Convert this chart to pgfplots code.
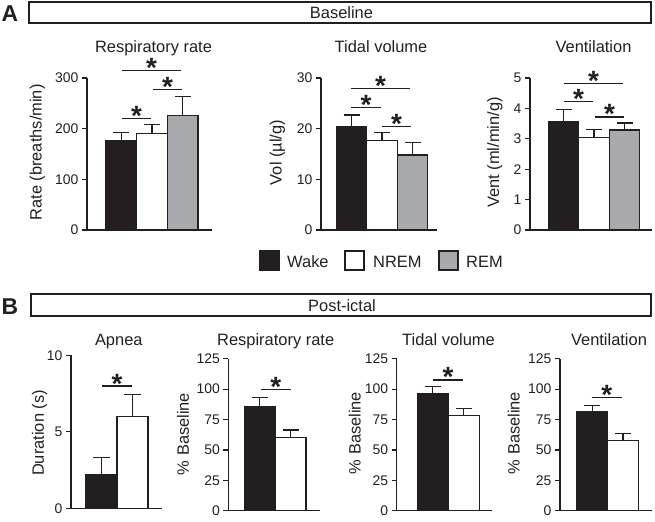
\documentclass[border=0pt]{standalone}
\usepackage{fontspec}
\setmainfont{Liberation Sans}
\usepackage{pgfplots}
\pgfplotsset{compat=1.18}
\definecolor{dk}{HTML}{231F20}
\definecolor{gr}{HTML}{A7A9AC}
\newcommand{\tf}{\fontsize{16.5}{18}\selectfont}
\newcommand{\sig}[3]{\draw[line width=1.2bp, dk] (axis cs:#1,#3) -- (axis cs:#2,#3) node[midway, anchor=base, yshift=-7bp, font=\fontsize{28}{28}\selectfont\bfseries, text=dk, inner sep=0pt] {*};}
\pgfplotsset{
  panel/.style={
    scale only axis, anchor=south west,
    axis x line=bottom, axis y line=left,
    axis line style={-, line width=1.2bp, draw=dk},
    xtick=\empty, tick align=outside, major tick length=5bp,
    tick style={line width=1.2bp, draw=dk},
    ymin=0, xmin=0, clip=false,
    ticklabel style={font=\fontsize{14}{14}\selectfont, text=dk},
    /pgf/number format/assume math mode=true,
    ybar, bar shift=0pt,
  },
  eb/.style={error bars/.cd, y dir=plus, y explicit,
    error bar style={line width=1.2bp, dk},
    error mark options={rotate=90, line width=1.2bp, mark size=8bp, dk}},
  bk/.style={fill=dk, draw=dk, line width=1.2bp, eb},
  wh/.style={fill=white, draw=dk, line width=1.2bp, eb},
  gy/.style={fill=gr, draw=dk, line width=1.2bp, eb},
}
\begin{document}
\begin{tikzpicture}
% ---------- Panel A ----------
\begin{axis}[panel, at={(87bp,-230bp)}, width=125bp, height=152bp, xmax=125, ymax=300, ytick={0,100,200,300}, bar width=30.67]
\addplot[bk] coordinates {(34.33,176) +- (0,17)};
\addplot[wh] coordinates {(65,191) +- (0,18)};
\addplot[gy] coordinates {(95.67,225.6) +- (0,38.4)};
\sig{35}{64}{220}
\sig{66}{95}{277.6}
\sig{35}{94}{315}
\end{axis}
\begin{axis}[panel, at={(321bp,-230bp)}, width=116bp, height=152bp, xmax=116, ymax=30, ytick={0,10,20,30}, bar width=30.5]
\addplot[bk] coordinates {(30.5,20.5) +- (0,2.2)};
\addplot[wh] coordinates {(61,17.6) +- (0,1.7)};
\addplot[gy] coordinates {(91.5,14.8) +- (0,2.4)};
\sig{30}{60}{24.1}
\sig{61}{90}{20.4}
\sig{30}{89}{27.9}
\end{axis}
\begin{axis}[panel, at={(530bp,-230bp)}, width=122bp, height=152bp, xmax=122, ymax=5, ytick={0,1,2,3,4,5}, bar width=30.67]
\addplot[bk] coordinates {(33.5,3.56) +- (0,0.40)};
\addplot[wh] coordinates {(64,3.05) +- (0,0.26)};
\addplot[gy] coordinates {(94.5,3.29) +- (0,0.23)};
\sig{34}{63}{4.23}
\sig{65}{94}{3.72}
\sig{34}{93}{4.83}
\end{axis}
% ---------- Panel B ----------
\begin{axis}[panel, at={(71bp,-508.3bp)}, width=91bp, height=153bp, xmax=91, ymax=10, ytick={0,5,10}, bar width=31]
\addplot[bk] coordinates {(30.5,2.22) +- (0,1.09)};
\addplot[wh] coordinates {(61.5,5.99) +- (0,1.46)};
\sig{30.7}{61.3}{7.99}
\end{axis}
\begin{axis}[panel, at={(228.3bp,-510.7bp)}, width=92bp, height=152bp, xmax=92, ymax=125, ytick={0,25,50,75,100,125}, bar width=30.85]
\addplot[bk] coordinates {(31.35,85.5) +- (0,7.4)};
\addplot[wh] coordinates {(62.2,60.0) +- (0,6.4)};
\sig{32.4}{62.7}{99.8}
\end{axis}
\begin{axis}[panel, at={(396.7bp,-510.7bp)}, width=95bp, height=152bp, xmax=95, ymax=125, ytick={0,25,50,75,100,125}, bar width=30.85]
\addplot[bk] coordinates {(36.1,96.0) +- (0,6.0)};
\addplot[wh] coordinates {(67,78.1) +- (0,5.8)};
\sig{36}{66.6}{107.5}
\end{axis}
\begin{axis}[panel, at={(560bp,-510.7bp)}, width=92bp, height=152bp, xmax=92, ymax=125, ytick={0,25,50,75,100,125}, bar width=30.8]
\addplot[bk] coordinates {(32.2,81.2) +- (0,5.5)};
\addplot[wh] coordinates {(63,57.6) +- (0,6.1)};
\sig{31.7}{61.7}{93.3}
\end{axis}
% ---------- Text and frames ----------
\begin{scope}[every node/.style={text=dk, inner sep=0pt}]
\draw[line width=1.2bp, dk] (29bp,-2bp) rectangle (651bp,-23bp);
\node[anchor=base, font=\tf] at (341.5bp,-18bp) {Baseline};
\draw[line width=1.2bp, dk] (31bp,-294bp) rectangle (651bp,-316bp);
\node[anchor=base, font=\tf] at (342bp,-311bp) {Post-ictal};
\node[anchor=base west, font=\fontsize{23}{23}\selectfont\bfseries] at (1.5bp,-21.7bp) {A};
\node[anchor=base west, font=\fontsize{23}{23}\selectfont\bfseries] at (1.5bp,-314.3bp) {B};
% titles
\node[anchor=base, font=\tf] at (153.5bp,-52.5bp) {Respiratory rate};
\node[anchor=base, font=\tf] at (381bp,-52.5bp) {Tidal volume};
\node[anchor=base, font=\tf] at (593.5bp,-52.5bp) {Ventilation};
\node[anchor=base, font=\tf] at (118.8bp,-345.5bp) {Apnea};
\node[anchor=base, font=\tf] at (275.7bp,-345.5bp) {Respiratory rate};
\node[anchor=base, font=\tf] at (448.5bp,-345.5bp) {Tidal volume};
\node[anchor=base, font=\tf] at (609bp,-345.5bp) {Ventilation};
% y labels
\node[anchor=base, rotate=90, font=\tf] at (41.5bp,-152.5bp) {Rate (breaths/min)};
\node[anchor=base, rotate=90, font=\tf] at (281.5bp,-152.5bp) {Vol (µl/g)};
\node[anchor=base, rotate=90, font=\tf] at (499bp,-152.5bp) {Vent (ml/min/g)};
\node[anchor=base, rotate=90, font=\tf] at (43.9bp,-433bp) {Duration (s)};
\node[anchor=base, rotate=90, font=\tf] at (188.9bp,-434bp) {\% Baseline};
\node[anchor=base, rotate=90, font=\tf] at (360.5bp,-433bp) {\% Baseline};
\node[anchor=base, rotate=90, font=\tf] at (519.5bp,-433bp) {\% Baseline};
% legend
\draw[line width=1.2bp, dk, fill=dk] (260bp,-251bp) rectangle (279bp,-270bp);
\node[anchor=base west, font=\tf] at (287bp,-267bp) {Wake};
\draw[line width=1.2bp, dk, fill=white] (345bp,-251bp) rectangle (364bp,-270bp);
\node[anchor=base west, font=\tf] at (373bp,-267bp) {NREM};
\draw[line width=1.2bp, dk, fill=gr] (439bp,-251bp) rectangle (458bp,-270bp);
\node[anchor=base west, font=\tf] at (466bp,-267bp) {REM};
\end{scope}
\pgfresetboundingbox
\path[use as bounding box] (0bp,0bp) rectangle (655bp,-522bp);
\end{tikzpicture}
\end{document}
